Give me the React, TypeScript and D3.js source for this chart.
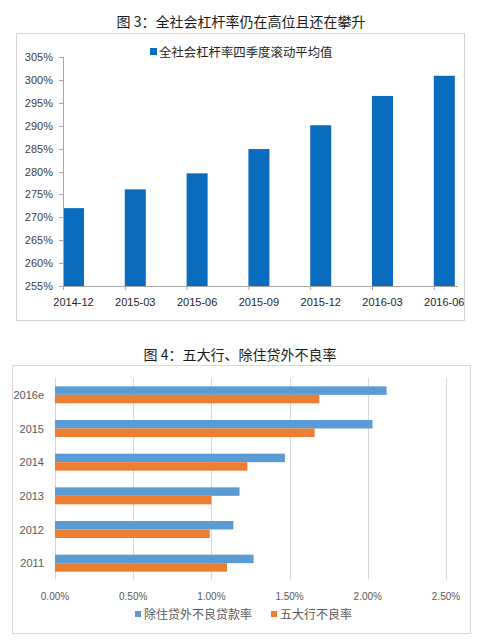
import React, { useEffect, useRef } from 'react';
import * as d3 from 'd3';

// top chart: leverage ratio
const quarters = ['2014-12', '2015-03', '2015-06', '2015-09', '2015-12', '2016-03', '2016-06'];
const leverage = [272.0, 276.1, 279.6, 284.9, 290.1, 296.5, 300.9];
const leverageTicks = [255, 260, 265, 270, 275, 280, 285, 290, 295, 300, 305];

// bottom chart: NPL ratios
const years = ['2016e', '2015', '2014', '2013', '2012', '2011'];
const exMortgageNpl = [2.12, 2.03, 1.47, 1.18, 1.14, 1.27];
const bigFiveNpl = [1.69, 1.66, 1.23, 1.0, 0.99, 1.1];
const nplTicks = [0, 0.5, 1.0, 1.5, 2.0, 2.5];
const nplSeries = ['除住贷外不良贷款率', '五大行不良率'];

const CJK = '"Noto Sans CJK SC", "Noto Sans", sans-serif';
const NUM = '"Liberation Sans", Arial, sans-serif';

const App: React.FC = () => {
  const ref = useRef<SVGSVGElement>(null);

  useEffect(() => {
    const svg = d3.select(ref.current);
    svg.selectAll('*').remove();

    // ---------- Figure 3 ----------
    svg.append('text')
      .attr('x', 241).attr('y', 27)
      .attr('text-anchor', 'middle')
      .style('font-family', CJK).style('font-size', '14px').style('fill', '#1a1a1a')
      .text('图 3：全社会杠杆率仍在高位且还在攀升');

    svg.append('defs').append('clipPath').attr('id', 'clip3')
      .append('rect').attr('x', 16).attr('y', 33).attr('width', 448).attr('height', 287);

    svg.append('rect')
      .attr('x', 16.5).attr('y', 33.5).attr('width', 448).attr('height', 287)
      .attr('fill', '#fff').attr('stroke', '#d4d4d4');

    const g3 = svg.append('g').attr('clip-path', 'url(#clip3)');

    const y = d3.scaleLinear().domain([255, 305]).range([286, 57]);
    const x = d3.scaleBand().domain(quarters).range([63, 63 + 7 * 61.8]);
    const barW = x.bandwidth() * 0.34;

    g3.selectAll('.bar')
      .data(quarters.map((q, i) => ({ q, v: leverage[i] })))
      .join('rect')
      .attr('class', 'bar')
      .attr('x', d => x(d.q)!)
      .attr('y', d => y(d.v))
      .attr('width', barW)
      .attr('height', d => y(255) - y(d.v))
      .attr('fill', '#0a6cbf');

    // y axis
    g3.append('line')
      .attr('x1', 63.5).attr('x2', 63.5).attr('y1', y(305)).attr('y2', y(255))
      .attr('stroke', '#a6a6a6');
    g3.selectAll('.ytick')
      .data(leverageTicks)
      .join('line')
      .attr('x1', 59).attr('x2', 63.5)
      .attr('y1', d => Math.round(y(d)) + 0.5).attr('y2', d => Math.round(y(d)) + 0.5)
      .attr('stroke', '#a6a6a6');
    g3.selectAll('.ylab')
      .data(leverageTicks)
      .join('text')
      .attr('x', 53).attr('y', d => y(d) + 4)
      .attr('text-anchor', 'end')
      .style('font-family', NUM).style('font-size', '11px').style('fill', '#404040')
      .text(d => `${d}%`);

    // x axis
    g3.append('line')
      .attr('x1', 63).attr('x2', 458).attr('y1', 286.5).attr('y2', 286.5)
      .attr('stroke', '#a6a6a6');
    g3.selectAll('.xtick')
      .data(quarters)
      .join('line')
      .attr('x1', d => x(d)! + 0.5).attr('x2', d => x(d)! + 0.5)
      .attr('y1', 286).attr('y2', 290)
      .attr('stroke', '#a6a6a6');
    g3.selectAll('.xlab')
      .data(quarters)
      .join('text')
      .attr('x', d => x(d)! + barW / 2)
      .attr('y', 306)
      .attr('text-anchor', 'middle')
      .style('font-family', NUM).style('font-size', '11px').style('fill', '#262626')
      .text(d => d);

    // legend
    svg.append('rect').attr('x', 150).attr('y', 48).attr('width', 7).attr('height', 7).attr('fill', '#0a6cbf');
    svg.append('text')
      .attr('x', 159).attr('y', 57)
      .style('font-family', CJK).style('font-size', '12.4px').style('fill', '#262626')
      .text('全社会杠杆率四季度滚动平均值');

    // ---------- Figure 4 ----------
    svg.append('text')
      .attr('x', 240).attr('y', 360)
      .attr('text-anchor', 'middle')
      .style('font-family', CJK).style('font-size', '14px').style('fill', '#1a1a1a')
      .text('图 4：五大行、除住贷外不良率');

    svg.append('rect')
      .attr('x', 12.5).attr('y', 365.5).attr('width', 458).attr('height', 268)
      .attr('fill', '#fff').attr('stroke', '#d9d9d9');

    const xs = d3.scaleLinear().domain([0, 2.5]).range([55, 446]);
    const ys = d3.scaleBand().domain(years).range([378, 580]);
    const sub = d3.scaleBand().domain(nplSeries).range([0, 17]);
    const colors = ['#5b9bd5', '#ed7d31'];

    svg.selectAll('.grid')
      .data(nplTicks)
      .join('line')
      .attr('x1', d => Math.round(xs(d)) + 0.5).attr('x2', d => Math.round(xs(d)) + 0.5)
      .attr('y1', 378).attr('y2', 580)
      .attr('stroke', '#d9d9d9');

    const rows = years.map((yr, i) => ({ yr, vals: [exMortgageNpl[i], bigFiveNpl[i]] }));
    const rowG = svg.selectAll('.row')
      .data(rows)
      .join('g')
      .attr('transform', d => `translate(0,${ys(d.yr)! + ys.bandwidth() / 2 - 8.5})`);
    rowG.selectAll('rect')
      .data(d => d.vals.map((v, j) => ({ v, s: nplSeries[j], c: colors[j] })))
      .join('rect')
      .attr('x', xs(0))
      .attr('y', d => sub(d.s)!)
      .attr('width', d => xs(d.v) - xs(0))
      .attr('height', sub.bandwidth())
      .attr('fill', d => d.c);

    svg.selectAll('.ylab4')
      .data(years)
      .join('text')
      .attr('x', 44).attr('y', d => ys(d)! + ys.bandwidth() / 2 + 4)
      .attr('text-anchor', 'end')
      .style('font-family', NUM).style('font-size', '11px').style('fill', '#595959')
      .text(d => d);

    svg.selectAll('.xlab4')
      .data(nplTicks)
      .join('text')
      .attr('x', d => xs(d)).attr('y', 600)
      .attr('text-anchor', 'middle')
      .style('font-family', NUM).style('font-size', '10px').style('fill', '#595959')
      .text(d => `${d.toFixed(2)}%`);

    // legend
    const legendX = [135, 271];
    nplSeries.forEach((s, i) => {
      svg.append('rect').attr('x', legendX[i]).attr('y', 611).attr('width', 6).attr('height', 6).attr('fill', colors[i]);
      svg.append('text')
        .attr('x', legendX[i] + 9).attr('y', 619)
        .style('font-family', CJK).style('font-size', '12px').style('fill', '#595959')
        .text(s);
    });
  }, []);

  return (
    <svg
      ref={ref}
      width={484}
      height={642}
      style={{ position: 'absolute', left: 0, top: 0, display: 'block', background: '#fff' }}
    />
  );
};

export default App;
